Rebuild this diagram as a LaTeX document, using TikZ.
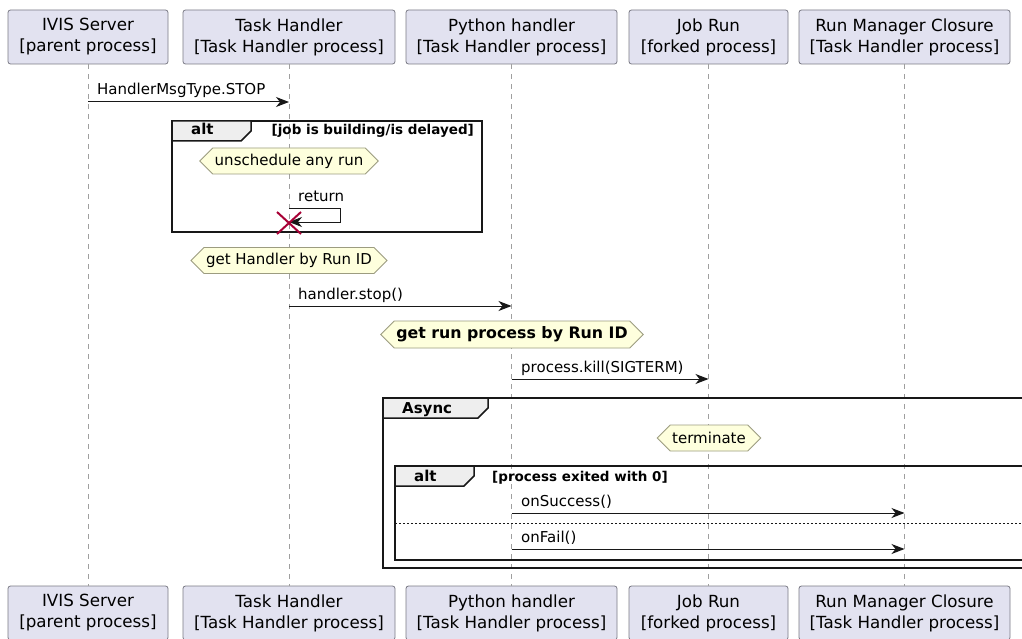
\documentclass[tikz,border=0pt]{standalone}
\usepackage{fontspec}
\setmainfont{DejaVu Sans}
\usetikzlibrary{shapes.symbols,arrows.meta}
\definecolor{partfill}{HTML}{E2E2F0}
\definecolor{partdraw}{HTML}{7A7A85}
\definecolor{notefill}{HTML}{FEFFDD}
\definecolor{notedraw}{HTML}{9C9C80}
\definecolor{tabfill}{HTML}{EEEEEE}
\definecolor{xred}{HTML}{A80036}
\definecolor{ink}{HTML}{181818}
\tikzset{
  part/.style={draw=partdraw, fill=partfill, rounded corners=2.5pt, line width=0.8pt,
    minimum height=54pt, inner sep=0pt, align=center, font=\fontsize{16.7}{21}\selectfont},
  lifeline/.style={draw=gray!75, dash pattern=on 5pt off 5pt, line width=0.8pt},
  msg/.style={draw=ink, line width=1pt, -{Stealth[length=13pt,width=10pt,inset=4pt]}},
  msglbl/.style={font=\fontsize{15}{18}\selectfont, anchor=base west, inner sep=0pt},
  hexnote/.style={shape=signal, signal to=east and west, signal pointer angle=90,
    draw=notedraw, fill=notefill, line width=0.8pt, inner xsep=2pt, inner ysep=0pt,
    minimum height=26pt, font=\fontsize{15}{18}\selectfont},
  framebox/.style={draw=ink, line width=1.5pt},
  tabbox/.style={fill=tabfill, draw=ink, line width=1.5pt},
  framelbl/.style={font=\bfseries\fontsize{15}{18}\selectfont, anchor=base west, inner sep=0pt},
  cond/.style={font=\bfseries\fontsize{13.5}{16}\selectfont, inner sep=0pt},
  xmark/.style={draw=xred, line width=2pt},
}
\begin{document}
\begin{tikzpicture}[x=1pt,y=-1pt]
\useasboundingbox (0,0) rectangle (1022,639);
\clip (0,0) rectangle (1022,639);
\fill[white] (0,0) rectangle (1022,639);

% participants top
\node[part, minimum width=160pt] (ivT) at (88,37) {IVIS Server\\{[parent process]}};
\node[part, minimum width=212pt] (thT) at (289,37) {Task Handler\\{[Task Handler process]}};
\node[part, minimum width=211pt] (phT) at (511.5,37) {Python handler\\{[Task Handler process]}};
\node[part, minimum width=159pt] (jrT) at (708.5,37) {Job Run\\{[forked process]}};
\node[part, minimum width=211pt] (rmT) at (904.5,37) {Run Manager Closure\\{[Task Handler process]}};
% participants bottom
\node[part, minimum width=160pt] (ivB) at (88,613) {IVIS Server\\{[parent process]}};
\node[part, minimum width=212pt] (thB) at (289,613) {Task Handler\\{[Task Handler process]}};
\node[part, minimum width=211pt] (phB) at (511.5,613) {Python handler\\{[Task Handler process]}};
\node[part, minimum width=159pt] (jrB) at (708.5,613) {Job Run\\{[forked process]}};
\node[part, minimum width=211pt] (rmB) at (904.5,613) {Run Manager Closure\\{[Task Handler process]}};

% lifelines
\draw[lifeline] (ivT.south) -- (ivB.north);
\draw[lifeline] (thT.south) -- (thB.north);
\draw[lifeline] (phT.south) -- (phB.north);
\draw[lifeline] (jrT.south) -- (jrB.north);
\draw[lifeline] (rmT.south) -- (rmB.north);

% message 1
\coordinate (m1a) at (ivT.south |- 0,102);
\coordinate (m1b) at (thT.south |- 0,102);
\draw[msg] (m1a) -- (m1b);
\node[msglbl] (m1l) at (97,95) {HandlerMsgType.STOP};

% alt frame 1
\draw[framebox] (172,121) rectangle (482,232);
\draw[tabbox] (172,121) -- (251,121) -- (251,131) -- (241,141) -- (172,141) -- cycle;
\node[framelbl] (alt1) at (191,135) {alt};
\node[cond, anchor=base east] (cond1) at (474,135) {[job is building/is delayed]};
\node[hexnote] (n1) at (289,161) {unschedule any run};
\node[msglbl] (retl) at (298,201) {return};
\coordinate (r0) at (thT.south |- 0,208);
\coordinate (r3) at (thT.south |- 0,222);
\draw[msg] (r0) -- (340,208) -- (340,222) -- (r3);
\coordinate (xc) at (thT.south |- 0,223);
\draw[xmark] ([shift={(-12,-11)}]xc) -- ([shift={(12,11)}]xc);
\draw[xmark] ([shift={(-12,11)}]xc) -- ([shift={(12,-11)}]xc);

% get handler
\node[hexnote] (n2) at (289,260.5) {get Handler by Run ID};

% handler.stop
\coordinate (m2a) at (thT.south |- 0,306);
\coordinate (m2b) at (phT.south |- 0,306);
\draw[msg] (m2a) -- (m2b);
\node[msglbl] (m2l) at (298,299) {handler.stop()};

\node[hexnote, font=\bfseries\fontsize{15.8}{18}\selectfont, minimum height=27pt] (n3) at (512,334.5) {get run process by Run ID};

% process.kill
\coordinate (m3a) at (phT.south |- 0,379);
\coordinate (m3b) at (jrT.south |- 0,379);
\draw[msg] (m3a) -- (m3b);
\node[msglbl] (m3l) at (521,372) {process.kill(SIGTERM)};

% Async frame
\draw[framebox] (383,398) rectangle (1040,568);
\draw[tabbox] (383,398) -- (488,398) -- (488,408) -- (478,418) -- (383,418) -- cycle;
\node[framelbl] (async) at (402,413) {Async};
\node[hexnote] (n4) at (709,438) {terminate};

% alt frame 2
\draw[framebox] (395,466) rectangle (1040,560);
\draw[tabbox] (395,466) -- (474,466) -- (474,476) -- (464,486) -- (395,486) -- cycle;
\node[framelbl] (alt2) at (414,481) {alt};
\node[cond, anchor=base west] (cond2) at (492,481) {[process exited with 0]};

\coordinate (m4a) at (phT.south |- 0,513);
\coordinate (m4b) at (rmT.south |- 0,513);
\draw[msg] (m4a) -- (m4b);
\node[msglbl] (m4l) at (521,506) {onSuccess()};

\draw[ink, line width=1pt, dash pattern=on 2pt off 2pt] (395,523) -- (1040,523);

\coordinate (m5a) at (phT.south |- 0,549);
\coordinate (m5b) at (rmT.south |- 0,549);
\draw[msg] (m5a) -- (m5b);
\node[msglbl] (m5l) at (521,542) {onFail()};
\end{tikzpicture}
\end{document}
